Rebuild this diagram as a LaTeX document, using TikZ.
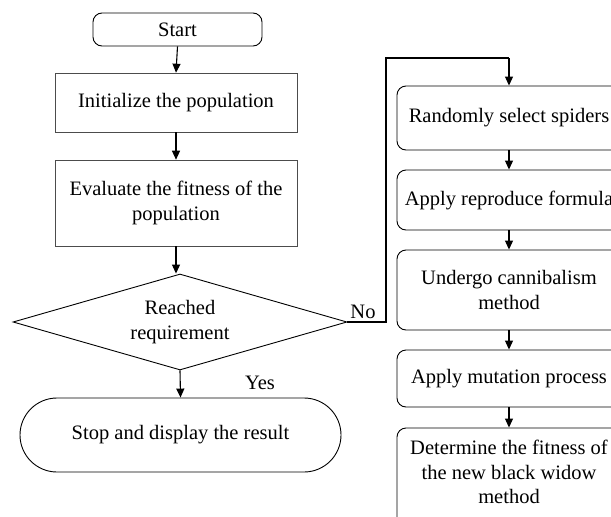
\documentclass[tikz,border=0pt]{standalone}
\usepackage{fontspec}
\setmainfont{Liberation Serif}
\usetikzlibrary{shapes.geometric,arrows.meta}
\begin{document}
\begin{tikzpicture}[x=1pt,y=-1pt,
  every node/.style={font=\fontsize{20.5}{24.5}\selectfont, align=center, inner sep=0pt},
  rbox/.style={draw, line width=0.9pt, rounded corners=9pt},
  pbox/.style={draw=black!70, line width=0.6pt},
  conn/.style={line width=1.1pt},
  arr/.style={conn, -{Triangle[length=9pt,width=8pt]}}]
\useasboundingbox (0,0) rectangle (611,517);
\node[rbox, minimum width=169pt, minimum height=33pt] (start) at (177.5,29.5) {Start};
\node[pbox, minimum width=242pt, minimum height=59pt] (init) at (176,102.5) {Initialize the population};
\node[pbox, minimum width=242pt, minimum height=86pt] (eval) at (176,203) {Evaluate the fitness of the\\population};
\node[diamond, draw, line width=0.9pt, minimum width=334pt, minimum height=96pt, aspect=3.48] (dec) at (180,322) {};
\node at (180,322) {Reached\\requirement};
\node[draw, line width=0.9pt, rounded corners=37pt, minimum width=321pt, minimum height=74pt] (stop) at (180.5,435) {Stop and display the result};
\node (no) at (363,312) {No};
\node (yes) at (260,383) {Yes};
\node[rbox, minimum width=224pt, minimum height=64pt] (r1) at (509,118) {Randomly select spiders};
\node[rbox, minimum width=224pt, minimum height=60pt] (r2) at (509,200) {Apply reproduce formula};
\node[rbox, minimum width=224pt, minimum height=80pt] (r3) at (509,290) {Undergo cannibalism\\method};
\node[rbox, minimum width=224pt, minimum height=57pt] (r4) at (509,378.5) {Apply mutation process};
\node[rbox, minimum width=224pt, minimum height=110pt] (r5) at (509,483) {};
\node at (509,472) {Determine the fitness of\\the new black widow\\method};
\coordinate (c1) at (386,322);
\coordinate (c2) at (386,58);
\coordinate (c3) at (509,58);
\draw[arr] (start.south) -- (init.north);
\draw[arr] (init.south) -- (eval.north);
\draw[arr] (eval.south) -- (dec.north -| eval.south);
\draw[arr] (dec.south) -- (stop.north);
\draw[conn] (dec.east) -- (c1) -- (c2) -- (c3);
\draw[arr] (c3) -- (r1.north);
\draw[arr] (r1.south) -- (r2.north);
\draw[arr] (r2.south) -- (r3.north);
\draw[arr] (r3.south) -- (r4.north);
\draw[arr] (r4.south) -- (r5.north);
\end{tikzpicture}
\end{document}
